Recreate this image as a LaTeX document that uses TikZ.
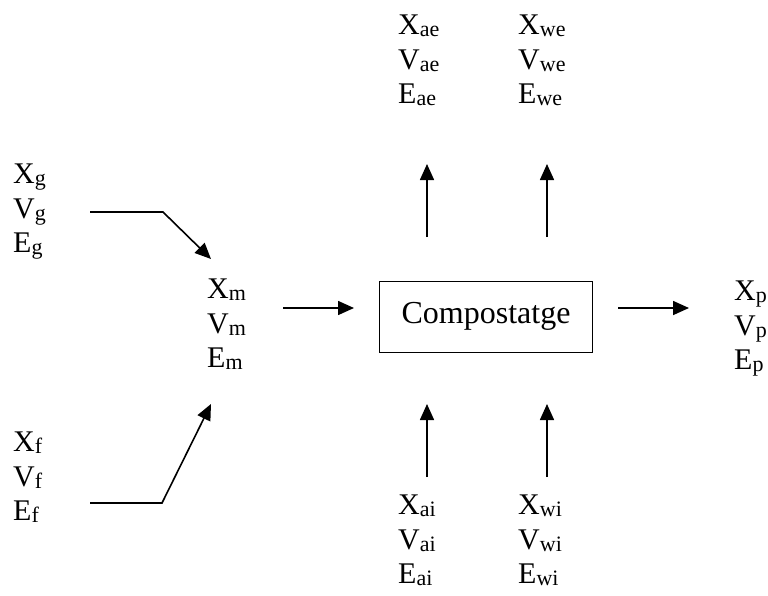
\documentclass[tikz,border=0pt]{standalone}
\usepackage{fontspec}
\setmainfont{Liberation Serif}
\usetikzlibrary{arrows.meta}
\newcommand{\lo}[1]{\raisebox{-2pt}{\fontsize{22}{22}\selectfont #1}}

\begin{document}
\begin{tikzpicture}[x=1pt, y=-1pt, every node/.style={font=\fontsize{30}{34.5}\selectfont},
	vals/.style={anchor=north west, inner sep=0pt, align=left},
	flow/.style={line width=1.6pt, -{Triangle[length=16pt, width=14pt]}}]
	\useasboundingbox (0,0) rectangle (768,595);
	\foreach \n/\x/\y in {g/13/164, f/13/432, m/207/279, p/734/281, ae/398/15, we/518/15, ai/398/495, wi/518/495} {\node[vals] (\n) at (\x,\y) {X\lo{\n}\\V\lo{\n}\\E\lo{\n}};}
	\node[draw, line width=1.6pt, minimum width=213pt, minimum height=71pt, font=\fontsize{32}{36}\selectfont] (box) at (486,317) {\raisebox{8pt}{Compostatge}};
	% ends of the arrows
	\foreach \c/\x/\y in {gin/90/212, gbend/163/212, gtip/211/259, fin/90/503, fbend/162/503, ftip/211/404, min/283/308, mtip/354/308, pin/618/308, ptip/689/308} {\coordinate (\c) at (\x,\y);}
	\foreach \c/\x in {ae/427, we/547} {\coordinate (\c in) at (\x,237); \coordinate (\c tip) at (\x,164);}
	\foreach \c/\x in {ai/427, wi/547} {\coordinate (\c in) at (\x,477); \coordinate (\c tip) at (\x,404);}
	\draw[flow] (gin) -- (gbend) -- (gtip);
	\draw[flow] (fin) -- (fbend) -- (ftip);
	\draw[flow] (min) -- (mtip);
	\draw[flow] (pin) -- (ptip);
	\foreach \c in {ae, we, ai, wi} {\draw[flow] (\c in) -- (\c tip);}
\end{tikzpicture}
\end{document}
